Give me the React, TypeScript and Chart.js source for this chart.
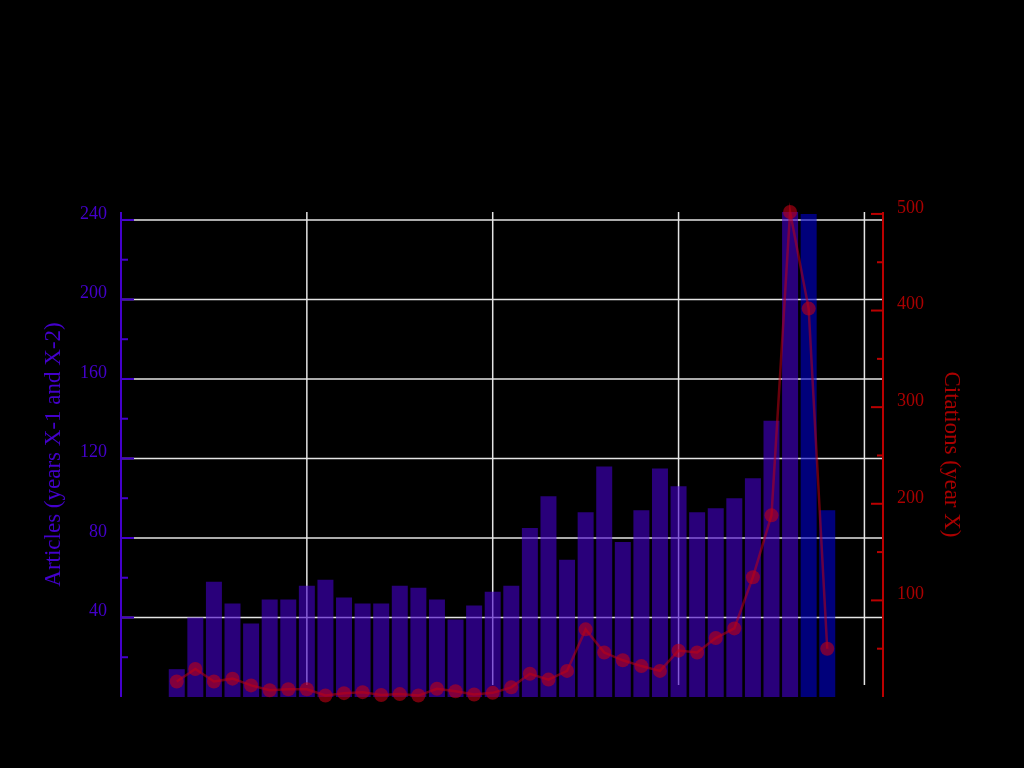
import React, { useEffect, useRef } from 'react';
import { Chart, registerables } from 'chart.js';

Chart.register(...registerables);

const years = [
  1973, 1974, 1975, 1976, 1977, 1978, 1979, 1980, 1981, 1982, 1983, 1984,
  1985, 1986, 1987, 1988, 1989, 1990, 1991, 1992, 1993, 1994, 1995, 1996,
  1997, 1998, 1999, 2000, 2001, 2002, 2003, 2004, 2005, 2006, 2007, 2008,
];
const articles = [
  14, 40, 58, 47, 37, 49, 49, 56, 59, 50, 47, 47,
  56, 55, 49, 39, 46, 53, 56, 85, 101, 69, 93, 116,
  78, 94, 115, 106, 93, 95, 100, 110, 139, 244, 243, 94,
];
const citations = [
  16, 29, 16, 19, 12, 7, 8, 8, 1.5, 4, 5, 2,
  3, 1.5, 8.5, 6, 2.6, 4.3, 10, 24, 18, 27, 70, 46,
  38, 32, 27, 48, 46, 61, 71, 124, 188, 502, 402, 50,
];
const articleTicks = [40, 80, 120, 160, 200, 240];
const articleMinorTicks = [20, 60, 100, 140, 180, 220];
const citationTicks = [100, 200, 300, 400, 500];
const citationMinorTicks = [50, 150, 250, 350, 450];
const yearGrid = [1980, 1990, 2000, 2010];

const PURPLE = '#4400cc';
const RED_TEXT = '#aa0000';
const RED_AXIS = '#bb0000';
const FONT = '"Liberation Serif", "Times New Roman", serif';

export default function App() {
  const ref = useRef<HTMLCanvasElement>(null);

  useEffect(() => {
    const canvas = ref.current;
    if (!canvas) return;

    const custom = {
      id: 'custom',
      beforeDraw(chart: any) {
        const { ctx, width, height } = chart;
        ctx.save();
        ctx.fillStyle = '#000';
        ctx.fillRect(0, 0, width, height);
        ctx.restore();
      },
      beforeDatasetsDraw(chart: any) {
        const { ctx, chartArea: a, scales } = chart;
        ctx.save();
        ctx.strokeStyle = '#e4e4e4';
        ctx.lineWidth = 1.5;
        articleTicks.forEach((v) => {
          const y = scales.y.getPixelForValue(v);
          ctx.beginPath();
          ctx.moveTo(a.left, y);
          ctx.lineTo(a.right, y);
          ctx.stroke();
        });
        yearGrid.forEach((v) => {
          const x = scales.x.getPixelForValue(v);
          ctx.beginPath();
          ctx.moveTo(x, a.top);
          ctx.lineTo(x, a.bottom - 12);
          ctx.stroke();
        });
        ctx.restore();
      },
      afterDatasetsDraw(chart: any) {
        const { ctx, chartArea: a, scales } = chart;
        ctx.save();
        ctx.lineWidth = 2;
        // left axis
        ctx.strokeStyle = PURPLE;
        ctx.beginPath();
        ctx.moveTo(a.left, a.top);
        ctx.lineTo(a.left, a.bottom);
        ctx.stroke();
        articleTicks.forEach((v) => {
          const y = scales.y.getPixelForValue(v);
          ctx.beginPath();
          ctx.moveTo(a.left, y);
          ctx.lineTo(a.left + 13, y);
          ctx.stroke();
        });
        articleMinorTicks.forEach((v) => {
          const y = scales.y.getPixelForValue(v);
          ctx.beginPath();
          ctx.moveTo(a.left, y);
          ctx.lineTo(a.left + 7, y);
          ctx.stroke();
        });
        // right axis
        ctx.strokeStyle = RED_AXIS;
        ctx.beginPath();
        ctx.moveTo(a.right, a.top);
        ctx.lineTo(a.right, a.bottom);
        ctx.stroke();
        citationTicks.forEach((v) => {
          const y = scales.y2.getPixelForValue(v);
          ctx.beginPath();
          ctx.moveTo(a.right - 12, y);
          ctx.lineTo(a.right, y);
          ctx.stroke();
        });
        citationMinorTicks.forEach((v) => {
          const y = scales.y2.getPixelForValue(v);
          ctx.beginPath();
          ctx.moveTo(a.right - 6, y);
          ctx.lineTo(a.right, y);
          ctx.stroke();
        });
        ctx.restore();
      },
    };

    const chart = new Chart(canvas, {
      type: 'bar',
      data: {
        datasets: [
          {
            type: 'line',
            label: 'Citations (year X)',
            data: years.map((x, i) => ({ x, y: citations[i] })),
            yAxisID: 'y2',
            borderColor: 'rgba(190,0,20,0.55)',
            backgroundColor: 'rgba(190,0,20,0.55)',
            pointBackgroundColor: 'rgba(190,0,20,0.6)',
            pointBorderWidth: 0,
            borderWidth: 2.5,
            pointRadius: 7,
            tension: 0,
            clip: false,
            order: 0,
          } as any,
          {
            type: 'bar',
            label: 'Articles (years X-1 and X-2)',
            data: years.map((x, i) => ({ x, y: articles[i] })),
            yAxisID: 'y',
            backgroundColor: (c: any) =>
              c.dataIndex >= articles.length - 2
                ? 'rgba(0,0,204,0.6)'
                : 'rgba(68,0,204,0.6)',
            borderWidth: 0,
            barPercentage: 0.86,
            categoryPercentage: 1,
            order: 1,
          } as any,
        ],
      },
      options: {
        responsive: false,
        animation: false,
        devicePixelRatio: 1,
        layout: { padding: { top: 212, bottom: 71, left: 0, right: 0 } },
        plugins: {
          legend: { display: false },
          tooltip: { enabled: false },
          title: { display: false },
        },
        scales: {
          x: {
            type: 'linear',
            min: 1970,
            max: 2011,
            display: false,
            offset: false,
          },
          y: {
            type: 'linear',
            position: 'left',
            min: 0,
            max: 244,
            grid: { display: false, drawTicks: false },
            border: { display: false },
            afterBuildTicks: (s: any) => {
              s.ticks = articleTicks.map((value) => ({ value }));
            },
            afterFit: (s: any) => {
              s.width = 121;
            },
            ticks: {
              color: PURPLE,
              font: { family: FONT, size: 18 },
              padding: 14,
              labelOffset: -6,
            },
            title: {
              display: true,
              text: 'Articles (years X-1 and X-2)',
              color: PURPLE,
              font: { family: FONT, size: 23 },
              padding: { top: 40, bottom: 0 },
            },
          },
          y2: {
            type: 'linear',
            position: 'right',
            min: 0,
            max: 502,
            grid: { display: false, drawTicks: false },
            border: { display: false },
            afterBuildTicks: (s: any) => {
              s.ticks = citationTicks.map((value) => ({ value }));
            },
            afterFit: (s: any) => {
              s.width = 141;
            },
            ticks: {
              color: RED_TEXT,
              font: { family: FONT, size: 18 },
              padding: 14,
              labelOffset: -6,
            },
            title: {
              display: true,
              text: 'Citations (year X)',
              color: RED_TEXT,
              font: { family: FONT, size: 23 },
              padding: { top: 59, bottom: 0 },
            },
          },
        },
      },
      plugins: [custom],
    } as any);

    return () => chart.destroy();
  }, []);

  return (
    <div style={{ position: 'fixed', inset: 0, background: '#000' }}>
      <canvas
        ref={ref}
        width={1024}
        height={768}
        style={{ display: 'block', width: 1024, height: 768 }}
      />
    </div>
  );
}
